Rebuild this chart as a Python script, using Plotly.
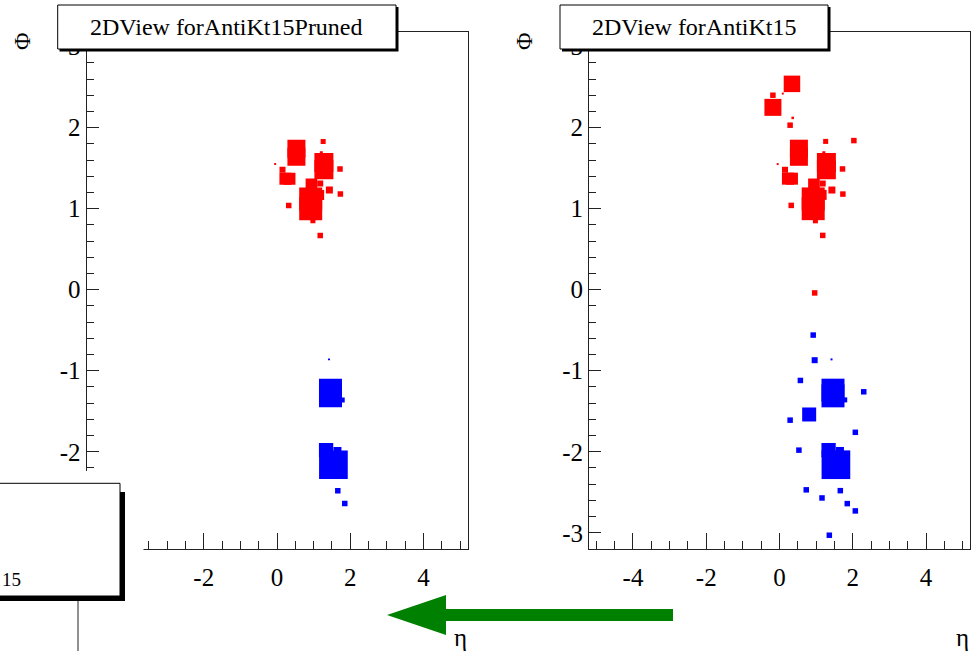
import plotly.graph_objects as go

# ---------------- data: calorimeter cells (eta, phi, energy) ----------------
# red jet, cells kept after pruning
red_eta = [1.26, -0.05, 0.53, 0.53, 1.28, 1.28, 1.21, 1.72, 0.23, 0.34, 0.15,
           0.92, 0.92, 0.94, 0.98, 1.18, 1.43, 1.15, 1.73, 0.32, 1.18]
red_phi = [1.83, 1.55, 1.74, 1.64, 1.57, 1.48, 1.69, 1.49, 1.37, 1.37, 1.48,
           1.12, 1.00, 1.30, 0.85, 1.31, 1.23, 1.17, 1.18, 1.04, 0.67]
red_E = [0.83, 0.13, 10.7, 10.7, 11.9, 11.9, 0.30, 1.0, 4.76, 4.76, 1.19,
         17.5, 17.5, 4.5, 0.83, 1.19, 1.62, 3.3, 1.0, 1.0, 1.0]

# blue jet, cells kept after pruning
blue_eta = [1.42, 1.46, 1.46, 1.78, 1.54, 1.34, 1.65, 1.66, 1.85]
blue_phi = [-0.86, -1.24, -1.31, -1.36, -2.16, -1.98, -1.99, -2.48, -2.64]
blue_E = [0.13, 17.5, 17.5, 0.83, 27.2, 6.76, 2.1, 1.0, 1.0]

# extra cells present only in the unpruned AntiKt15 jets
red_x_eta = [0.34, -0.18, -0.18, 0.09, 0.36, 0.29, 2.03, 0.96]
red_x_phi = [2.54, 2.25, 2.40, 2.42, 2.12, 2.03, 1.84, -0.04]
red_x_E = [9.0, 9.55, 1.0, 0.13, 0.21, 1.0, 1.0, 1.0]

blue_x_eta = [0.92, 0.96, 0.57, 2.30, 0.81, 0.29, 2.07, 0.53, 0.73, 1.16, 2.07, 1.36]
blue_x_phi = [-0.56, -0.87, -1.12, -1.26, -1.54, -1.61, -1.76, -1.98, -2.47, -2.57, -2.73, -3.03]
blue_x_E = [1.0, 1.19, 1.0, 1.0, 6.48, 1.0, 1.0, 1.0, 1.0, 1.0, 1.0, 1.0]

titles = ["2DView forAntiKt15Pruned", "2DView forAntiKt15"]
x_ticks = [-4, -2, 0, 2, 4]
y_ticks = [-3, -2, -1, 0, 1, 2, 3]
x_range = [-5.2, 5.2]
y_range = [-3.2, 3.18]

# ---------------- figure ----------------
W, H = 971, 651
BOX_SCALE = 5.5  # px per sqrt(energy)


def sizes(E):
    return [BOX_SCALE * e ** 0.5 for e in E]


def px(x):
    return x / W


def py(y):
    return 1 - y / H


fig = go.Figure()


def add_cells(eta, phi, E, color, xa, ya):
    fig.add_trace(go.Scatter(
        x=eta, y=phi, mode="markers", xaxis=xa, yaxis=ya,
        marker=dict(symbol="square", size=sizes(E), color=color, opacity=1,
                    line=dict(width=0)),
        showlegend=False, hoverinfo="skip"))


add_cells(red_eta, red_phi, red_E, "#ff0000", "x", "y")
add_cells(blue_eta, blue_phi, blue_E, "#0000ff", "x", "y")
add_cells(red_eta + red_x_eta, red_phi + red_x_phi, red_E + red_x_E, "#ff0000", "x2", "y2")
add_cells(blue_eta + blue_x_eta, blue_phi + blue_x_phi, blue_E + blue_x_E, "#0000ff", "x2", "y2")

FONT = "Liberation Serif, Times New Roman, serif"
tickfont = dict(family=FONT, size=25, color="black")

xcommon = dict(range=x_range, showline=True, linecolor="#222", linewidth=1, mirror=True,
               ticks="inside", ticklen=16, tickwidth=1, tickcolor="#222",
               tickmode="array", tickvals=x_ticks, ticktext=[str(v) for v in x_ticks],
               showgrid=False, zeroline=False, tickfont=tickfont,
               ticklabelstandoff=6,
               minor=dict(ticks="inside", ticklen=8, dtick=0.5, tick0=0, tickcolor="#222", showgrid=False))
ycommon = dict(range=y_range, showline=True, linecolor="#222", linewidth=1, mirror=True,
               ticks="inside", ticklen=12, tickwidth=1, tickcolor="#222",
               tickmode="array", tickvals=y_ticks, ticktext=[str(v) for v in y_ticks],
               showgrid=False, zeroline=False, tickfont=tickfont,
               minor=dict(ticks="inside", ticklen=7, dtick=0.2, tick0=0, tickcolor="#222", showgrid=False))

ydom = [py(549), py(32)]
fig.update_layout(
    width=W, height=H, margin=dict(l=0, r=0, t=0, b=0),
    paper_bgcolor="white", plot_bgcolor="white",
    xaxis=dict(domain=[px(86.5), px(467.5)], anchor="y", **xcommon),
    yaxis=dict(domain=ydom, anchor="x", **ycommon),
    xaxis2=dict(domain=[px(589), px(970)], anchor="y2", **xcommon),
    yaxis2=dict(domain=ydom, anchor="x2", **ycommon),
)

shapes = []


def rect(x0, y0, x1, y1, fill, line=None):
    shapes.append(dict(type="rect", xref="paper", yref="paper", layer="above",
                       x0=px(x0), x1=px(x1), y0=py(y1), y1=py(y0),
                       fillcolor=fill,
                       line=dict(width=1 if line else 0, color=line or fill)))


# title boxes with shadow
rect(59.5, 7, 398.5, 51.5, "black")
rect(57.7, 5, 396, 49, "white", "black")
rect(562, 7, 830.5, 51.5, "black")
rect(560, 5, 828, 49, "white", "black")

# region hidden by overlapping window at lower left
rect(79, 471, 143.5, 605, "white")
# overlapping window box with shadow
rect(-5, 492, 125, 601, "black")
rect(-2, 483.3, 120, 596, "white", "black")
shapes.append(dict(type="line", xref="paper", yref="paper", layer="above",
                   x0=px(78), x1=px(78), y0=py(601), y1=py(651),
                   line=dict(color="#222", width=1)))

# green arrow
pts = [(387, 615), (446, 595), (446, 609), (673, 609), (673, 621), (446, 621), (446, 635)]
path = "M " + " L ".join(f"{px(a):.5f},{py(b):.5f}" for a, b in pts) + " Z"
shapes.append(dict(type="path", xref="paper", yref="paper", layer="above", path=path,
                   fillcolor="#008000", line=dict(width=0)))

fig.update_layout(shapes=shapes)

ann = []


def text(x, y, s, size=24, angle=0, xanchor="center"):
    ann.append(dict(x=px(x), y=py(y), xref="paper", yref="paper", text=s, showarrow=False,
                    xanchor=xanchor, yanchor="middle", textangle=angle,
                    font=dict(family=FONT, size=size, color="black")))


text(226.9, 27, titles[0])
text(694, 27, titles[1])
text(22, 41, "Φ", angle=-90)
text(524, 41, "Φ", angle=-90)
text(460, 637, "η", size=25)
text(962, 637, "η", size=25)
text(0, 579, "15", size=19, xanchor="left")
fig.update_layout(annotations=ann)

fig.write_html("out.html")
